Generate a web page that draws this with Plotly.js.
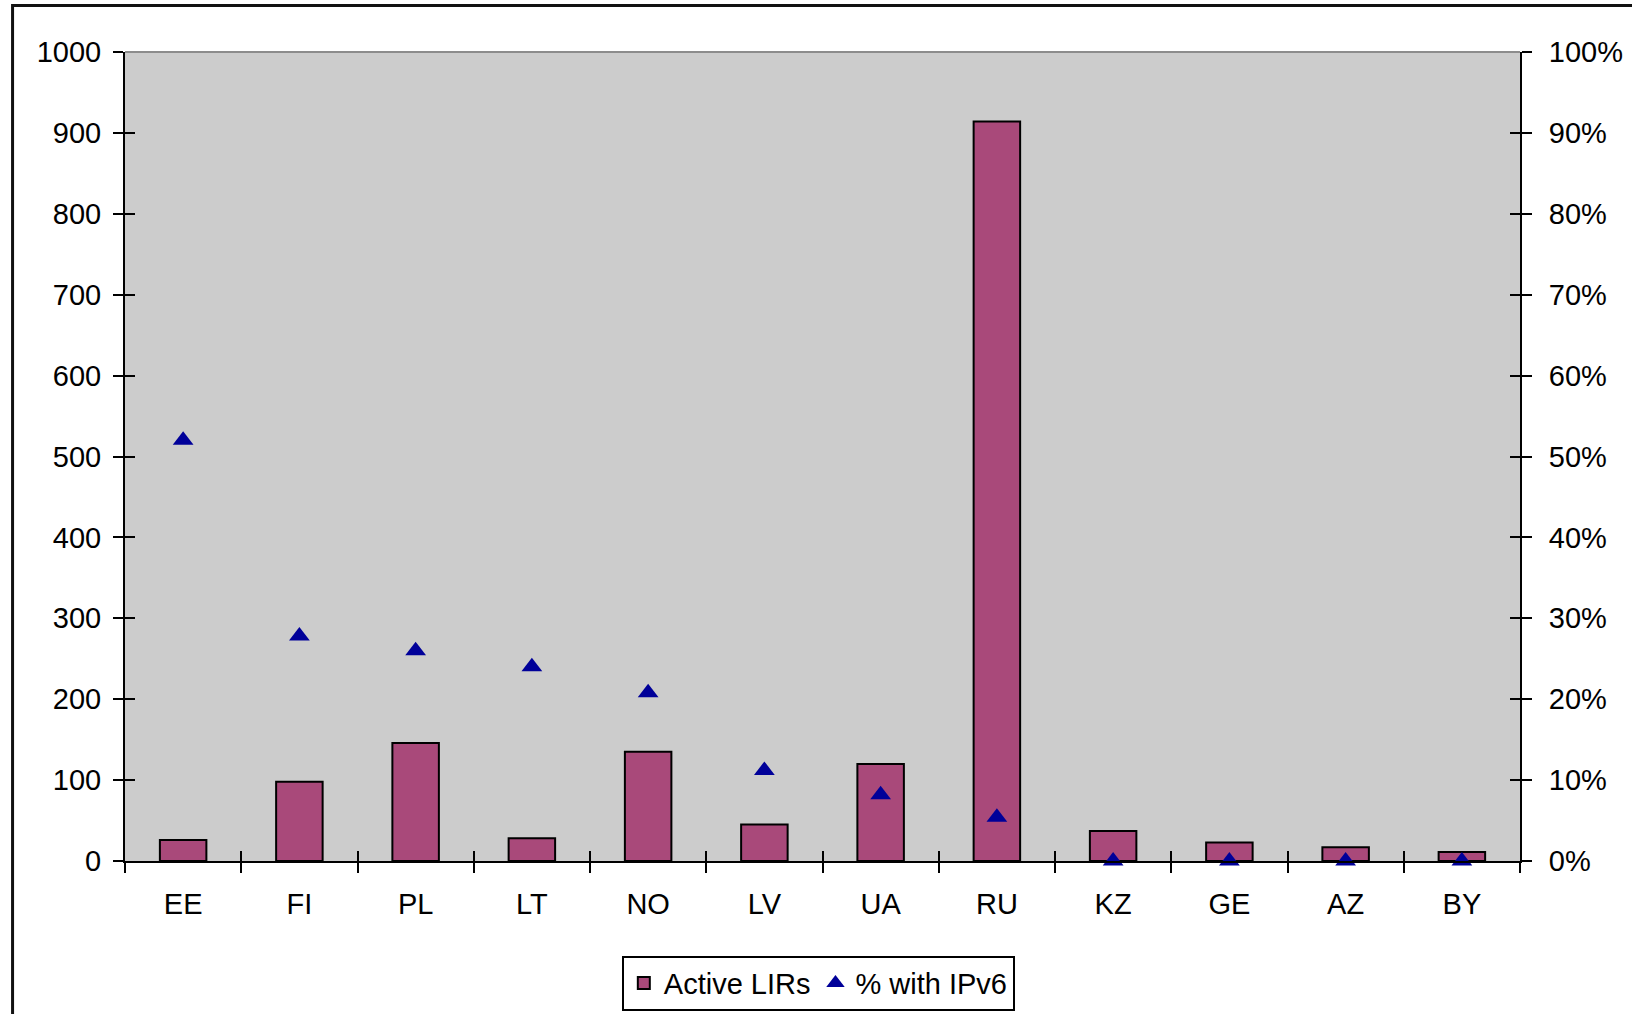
<!DOCTYPE html>
<html>
<head>
<meta charset="utf-8">
<script src="https://cdn.plot.ly/plotly-3.0.1.min.js"></script>
<style>html,body{margin:0;padding:0;background:#fff;}#chart{width:1632px;height:1014px;}</style>
</head>
<body>
<div id="chart"></div>
<script>
const countries = ["EE", "FI", "PL", "LT", "NO", "LV", "UA", "RU", "KZ", "GE", "AZ", "BY"];
const activeLIRs = [26, 98, 146, 28, 135, 45, 120, 914, 37, 23, 17, 11];
const pctIPv6 = [0.52, 0.278, 0.26, 0.24, 0.208, 0.112, 0.082, 0.054, 0, 0, 0, 0];
const leftTicks = [0, 100, 200, 300, 400, 500, 600, 700, 800, 900, 1000];
const rightTicks = [0, 0.1, 0.2, 0.3, 0.4, 0.5, 0.6, 0.7, 0.8, 0.9, 1.0];

const FONT = "Liberation Sans, Arial, sans-serif";
const boundaries = countries.map((_, i) => i - 0.5).concat([countries.length - 0.5]);

const traces = [
  {
    type: "bar", name: "Active LIRs", x: countries, y: activeLIRs,
    xaxis: "x", yaxis: "y",
    marker: {color: "#A9497A", line: {color: "#000", width: 2}},
    hoverinfo: "x+y"
  },
  {
    type: "scatter", mode: "markers", name: "% with IPv6", x: countries, y: pctIPv6,
    xaxis: "x", yaxis: "y2", cliponaxis: false,
    marker: {symbol: "triangle-up", color: "#000099", size: 18, line: {width: 0}}
  }
];

const tickFont = {family: FONT, size: 29, color: "#000"};

const layout = {
  width: 1632, height: 1014,
  margin: {l: 125, r: 112, t: 52, b: 153, autoexpand: false},
  paper_bgcolor: "#fff", plot_bgcolor: "#CCCCCC",
  font: {family: FONT, size: 29, color: "#000"},
  bargap: 0.6,
  showlegend: true,
  legend: {
    orientation: "h", x: 0.497, xanchor: "center", y: -0.117, yanchor: "top",
    bordercolor: "#000", borderwidth: 2, bgcolor: "#fff",
    font: {family: FONT, size: 29, color: "#000"},
    itemwidth: 30, tracegroupgap: 0
  },
  xaxis: {
    type: "category", range: [-0.5, countries.length - 0.5],
    tickson: "boundaries", ticks: "outside", ticklen: 10, tickwidth: 2, tickcolor: "#000",
    showline: true, linecolor: "#000", linewidth: 2, showgrid: false, zeroline: false,
    tickfont: tickFont, ticklabelstandoff: 16, fixedrange: true, automargin: false
  },
  xaxis2: {
    overlaying: "x", type: "linear", range: [-0.5, countries.length - 0.5],
    tickmode: "array", tickvals: boundaries, showticklabels: false,
    ticks: "inside", ticklen: 10, tickwidth: 2, tickcolor: "#000",
    showline: false, showgrid: false, zeroline: false, side: "bottom"
  },
  yaxis: {
    range: [0, 1000], tickmode: "array", tickvals: leftTicks,
    ticks: "outside", ticklen: 10, tickwidth: 2, tickcolor: "#000",
    showline: true, linecolor: "#000", linewidth: 2, showgrid: false, zeroline: false,
    tickfont: tickFont, ticklabelstandoff: 6, automargin: false
  },
  yaxis3: {
    overlaying: "y", range: [0, 1000], tickmode: "array", tickvals: leftTicks,
    ticks: "inside", ticklen: 10, tickwidth: 2, tickcolor: "#000",
    showticklabels: false, showline: false, showgrid: false, zeroline: false, side: "left"
  },
  yaxis2: {
    overlaying: "y", side: "right", range: [0, 1], tickmode: "array", tickvals: rightTicks,
    tickformat: ".0%",
    ticks: "outside", ticklen: 10, tickwidth: 2, tickcolor: "#000",
    showline: true, linecolor: "#000", linewidth: 2, showgrid: false, zeroline: false,
    tickfont: tickFont, ticklabelstandoff: 11, automargin: false
  },
  yaxis4: {
    overlaying: "y", side: "right", range: [0, 1], tickmode: "array", tickvals: rightTicks,
    ticks: "inside", ticklen: 10, tickwidth: 2, tickcolor: "#000",
    showticklabels: false, showline: false, showgrid: false, zeroline: false
  },
  shapes: [
    {type: "line", xref: "paper", yref: "paper", x0: 0, x1: 1, y0: 1, y1: 1,
     line: {color: "#8c8c8c", width: 2}, layer: "above"},
    {type: "rect", xref: "paper", yref: "paper", x0: -0.0806, x1: 1.2, y0: -0.3, y1: 1.0575,
     line: {color: "#111", width: 3}, fillcolor: "rgba(0,0,0,0)", layer: "below"}
  ]
};

// empty traces that only activate the overlay tick axes
traces.push({type: "scatter", x: [null], y: [null], xaxis: "x2", yaxis: "y3", showlegend: false, hoverinfo: "skip"});
traces.push({type: "scatter", x: [null], y: [null], xaxis: "x2", yaxis: "y4", showlegend: false, hoverinfo: "skip"});

Plotly.newPlot("chart", traces, layout, {displayModeBar: false, staticPlot: true});
</script>
</body>
</html>
